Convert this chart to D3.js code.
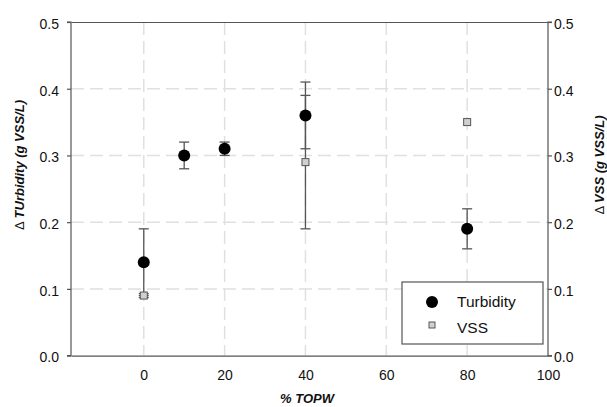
<!DOCTYPE html>
<html><head><meta charset="utf-8">
<script src="https://cdn.jsdelivr.net/npm/d3@7"></script>
<style>body{margin:0;background:#fff;} svg{display:block;font-family:"Liberation Sans",Arial,sans-serif;}</style>
</head><body>
<svg id="c" width="607" height="407"></svg>
<script>
const xTicks = [0, 20, 40, 60, 80, 100];
const yTicks = [0.0, 0.1, 0.2, 0.3, 0.4, 0.5];
const turbX = [0, 10, 20, 40, 80];
const turbY = [0.14, 0.30, 0.31, 0.36, 0.19];
const turbErr = [0.05, 0.02, 0.01, 0.05, 0.03];
const vssX = [0, 40, 80];
const vssY = [0.09, 0.29, 0.35];
const vssErr = [0.003, 0.10, 0];
const seriesNames = ["Turbidity", "VSS"];

const svg = d3.select("#c");
const L = 71, R = 548, T = 22, B = 355.6;
const x = d3.scaleLinear().domain([-18, 100]).range([L, R]);
const y = d3.scaleLinear().domain([0, 0.5]).range([B, T]);
const axisColor = "#555";

// grid
const g = svg.append("g");
g.selectAll(".gx").data(xTicks.filter(d => d < 100)).join("line")
  .attr("x1", d => x(d)).attr("x2", d => x(d)).attr("y1", T).attr("y2", B)
  .attr("stroke", "#e0e0e0").attr("stroke-width", 1.5).attr("stroke-dasharray", "13,6");
g.selectAll(".gy").data(yTicks.filter(d => d > 0 && d < 0.5)).join("line")
  .attr("y1", d => y(d)).attr("y2", d => y(d)).attr("x1", L).attr("x2", R)
  .attr("stroke", "#e0e0e0").attr("stroke-width", 1.5).attr("stroke-dasharray", "13,6");

// axes
const fmt = d3.format(".1f");
const yl = svg.append("g").attr("transform", `translate(${L},0)`)
  .call(d3.axisLeft(y).tickValues(yTicks).tickFormat(fmt).tickSize(4).tickPadding(8));
const yr = svg.append("g").attr("transform", `translate(${R},0)`)
  .call(d3.axisRight(y).tickValues(yTicks).tickFormat(fmt).tickSize(4).tickPadding(2));
const xb = svg.append("g").attr("transform", `translate(0,${B})`)
  .call(d3.axisBottom(x).tickValues(xTicks).tickSize(0).tickPadding(14));
const xt = svg.append("g").attr("transform", `translate(0,${T})`)
  .call(d3.axisTop(x).tickValues([]).tickSize(0));
[yl, yr, xb, xt].forEach(a => {
  a.select(".domain").attr("stroke", axisColor).attr("stroke-width", 1.2);
  a.selectAll(".tick line").attr("stroke", axisColor).attr("stroke-width", 1.2);
  a.selectAll("text").attr("font-size", 14).attr("fill", "#111").attr("font-family", "Liberation Sans, Arial, sans-serif");
});
yl.selectAll("text").attr("dy", "0.45em");
yr.selectAll("text").attr("dy", "0.45em");
yl.select(".domain").attr("d", `M-4,${T}H0V${B}H-4`);
yr.select(".domain").attr("d", `M4,${T}H0V${B}H4`);

// error bars
function errBars(xs, ys, es) {
  const eg = svg.append("g");
  xs.forEach((xv, i) => {
    if (!es[i]) return;
    const cx = x(xv), y1 = y(ys[i] + es[i]), y0 = y(ys[i] - es[i]);
    eg.append("line").attr("x1", cx).attr("x2", cx).attr("y1", y1).attr("y2", y0)
      .attr("stroke", axisColor).attr("stroke-width", 1.3);
    [y1, y0].forEach(yy => eg.append("line").attr("x1", cx - 5).attr("x2", cx + 5)
      .attr("y1", yy).attr("y2", yy).attr("stroke", axisColor).attr("stroke-width", 1.3));
  });
}
errBars(turbX, turbY, turbErr);
errBars(vssX, vssY, vssErr);

// markers
svg.append("g").selectAll("circle").data(turbX).join("circle")
  .attr("cx", d => x(d)).attr("cy", (d, i) => y(turbY[i])).attr("r", 6).attr("fill", "#000");
svg.append("g").selectAll("rect").data(vssX).join("rect")
  .attr("x", d => x(d) - 3.5).attr("y", (d, i) => y(vssY[i]) - 3.5)
  .attr("width", 7).attr("height", 7).attr("fill", "#d0d0d0").attr("stroke", axisColor).attr("stroke-width", 1);

// legend
const lg = svg.append("g");
lg.append("rect").attr("x", 402).attr("y", 282).attr("width", 141).attr("height", 62)
  .attr("fill", "#fff").attr("stroke", axisColor).attr("stroke-width", 1.2);
lg.append("circle").attr("cx", 432).attr("cy", 302).attr("r", 6).attr("fill", "#000");
lg.append("rect").attr("x", 429).attr("y", 322).attr("width", 6).attr("height", 6)
  .attr("fill", "#d0d0d0").attr("stroke", axisColor).attr("stroke-width", 1);
lg.selectAll("text").data(seriesNames).join("text")
  .attr("x", 457).attr("y", (d, i) => 302 + i * 25.5).attr("dy", "0.35em")
  .attr("font-size", 15.5).attr("fill", "#111").text(d => d);

// axis titles
function ytitle(tx, rest) {
  const t = svg.append("text").attr("transform", `translate(${tx},165) rotate(-90)`)
    .attr("text-anchor", "middle").attr("font-size", 13).attr("fill", "#111");
  t.append("tspan").text("Δ ");
  t.append("tspan").attr("font-weight", "bold").attr("font-style", "italic").text(rest);
}
ytitle(24, "TUrbidity (g VSS/L)");
ytitle(604, "VSS (g VSS/L)");
svg.append("text").attr("x", 307).attr("y", 403)
  .attr("text-anchor", "middle").attr("font-size", 13).attr("font-weight", "bold").attr("font-style", "italic").attr("fill", "#111")
  .text("% TOPW");
</script>
</body></html>
